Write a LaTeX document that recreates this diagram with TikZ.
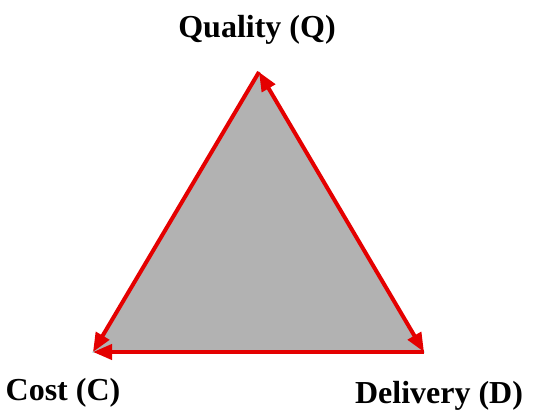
\documentclass[tikz,border=0pt]{standalone}
\usepackage{fontspec}
\setmainfont{Liberation Serif}
\usetikzlibrary{arrows.meta}
\definecolor{fillgray}{RGB}{178,178,178}
\definecolor{edgecyan}{RGB}{175,225,225}
\definecolor{arrred}{RGB}{228,0,0}
\begin{document}
\begin{tikzpicture}[x=1pt,y=1pt,
  lbl/.style={font=\bfseries\fontsize{32}{32}\selectfont, inner sep=0pt, anchor=base},
  tip/.style={},
  edgearrow/.style={draw=arrred, line width=4pt, -{Triangle[length=19pt,width=15pt]}},
  biarrow/.style={draw=arrred, line width=4pt, {Triangle[length=19pt,width=15pt]}-{Triangle[length=19pt,width=15pt]}}]
\useasboundingbox (0,0) rectangle (553,412);
\coordinate (Q) at (259,340);
\coordinate (C) at (93,60);
\coordinate (D) at (424,60);
\fill[fillgray, draw=edgecyan, line width=1pt] (Q) -- (C) -- (D) -- cycle;
\draw[edgearrow] (Q) -- (C);
\draw[edgearrow] (D) -- (C);
\draw[biarrow] (Q) -- (D);
\node[lbl] (lq) at (257,374) {Quality (Q)};
\node[lbl] (lc) at (63,12) {Cost (C)};
\node[lbl] (ld) at (439,9) {Delivery (D)};
\end{tikzpicture}
\end{document}
